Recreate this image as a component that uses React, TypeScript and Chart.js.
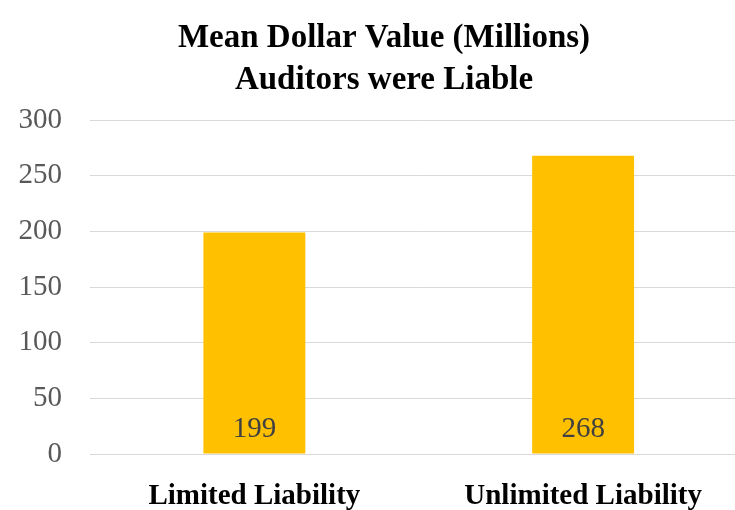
import React, { useEffect, useRef } from "react";
import { Chart, registerables } from "chart.js";

Chart.register(...registerables);

const categories = ["Limited Liability", "Unlimited Liability"];
const meanValues = [199, 268];
const titleLines = ["Mean Dollar Value (Millions)", "Auditors were Liable"];
const yTicks = [0, 50, 100, 150, 200, 250, 300];

const FONT = "'Liberation Serif', 'DejaVu Serif', serif";

const titlePlugin = {
  id: "customTitle",
  afterDraw(chart: any) {
    const ctx = chart.ctx;
    ctx.save();
    ctx.fillStyle = "#000000";
    ctx.font = `bold 33px ${FONT}`;
    ctx.textAlign = "center";
    ctx.textBaseline = "middle";
    ctx.fillText(titleLines[0], 384, 38);
    ctx.fillText(titleLines[1], 384, 80);
    ctx.restore();
  },
};

const valueLabelPlugin = {
  id: "valueLabels",
  afterDatasetsDraw(chart: any) {
    const ctx = chart.ctx;
    const meta = chart.getDatasetMeta(0);
    const yScale = chart.scales.y;
    ctx.save();
    ctx.fillStyle = "#404040";
    ctx.font = `29px ${FONT}`;
    ctx.textAlign = "center";
    ctx.textBaseline = "middle";
    meta.data.forEach((bar: any, i: number) => {
      ctx.fillText(String(meanValues[i]), bar.x, yScale.getPixelForValue(0) - 25);
    });
    ctx.restore();
  },
};

export default function App() {
  const ref = useRef<HTMLCanvasElement>(null);
  useEffect(() => {
    if (!ref.current) return;
    const chart = new Chart(ref.current, {
      type: "bar",
      data: {
        labels: categories,
        datasets: [
          {
            data: meanValues,
            backgroundColor: "#FFC000",
            borderWidth: 0,
            barPercentage: 0.31,
            categoryPercentage: 1,
          },
        ],
      },
      options: {
        animation: false,
        responsive: false,
        maintainAspectRatio: false,
        layout: { padding: { top: 120, left: 0, right: 12.5, bottom: 0 } },
        plugins: {
          legend: { display: false },
          title: { display: false },
          tooltip: { enabled: false },
        },
        scales: {
          x: {
            grid: { display: false, drawTicks: false },
            border: { display: true, color: "#d9d9d9", width: 1 },
            ticks: {
              color: "#000000",
              font: { family: FONT, size: 29, weight: "bold" },
              padding: 25,
              maxRotation: 0,
            },
            afterFit(scale: any) {
              scale.height = 56;
            },
          },
          y: {
            min: 0,
            max: 300,
            afterBuildTicks(scale: any) {
              scale.ticks = yTicks.map((v) => ({ value: v }));
            },
            grid: { color: "#d9d9d9", lineWidth: 1, drawTicks: false },
            border: { display: false },
            ticks: {
              color: "#595959",
              font: { family: FONT, size: 29 },
              padding: 28,
            },
            afterFit(scale: any) {
              scale.width = 90;
            },
          },
        },
      },
      plugins: [titlePlugin, valueLabelPlugin],
    });
    return () => chart.destroy();
  }, []);
  return (
    <div
      style={{
        position: "fixed",
        left: 0,
        top: 0,
        width: 735,
        height: 510,
        overflow: "hidden",
        background: "#ffffff",
      }}
    >
      <canvas ref={ref} width={760} height={510} style={{ display: "block" }} />
    </div>
  );
}
